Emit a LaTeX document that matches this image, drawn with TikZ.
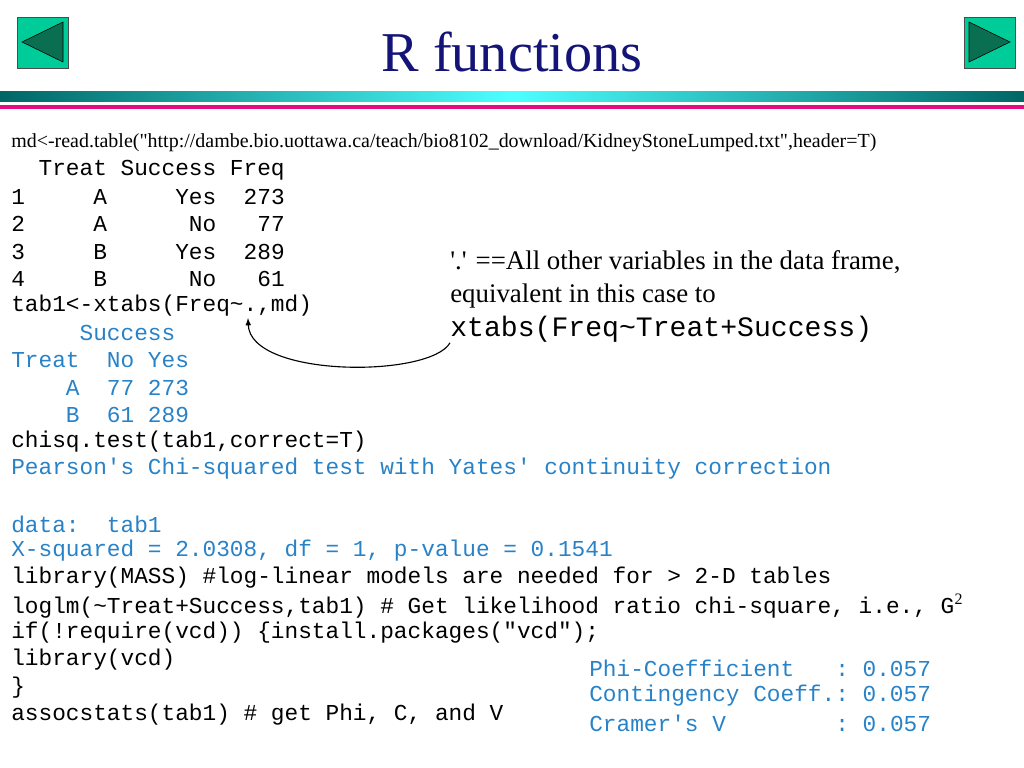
\documentclass[tikz,border=0pt]{standalone}
\usepackage{fontspec}
\setmainfont{Liberation Serif}
\setmonofont{Liberation Mono}
\usetikzlibrary{arrows,calc}
\definecolor{navytitle}{RGB}{20,20,120}
\definecolor{rblue}{RGB}{40,130,200}
\definecolor{btn}{RGB}{0,204,153}
\definecolor{btndark}{RGB}{10,110,80}
\begin{document}
\begin{tikzpicture}[x=0.025cm,y=-0.025cm]
        \tikzstyle{code} = [anchor=west, inner sep=0, font=\fontsize{16.2}{18}\ttfamily]
        \tikzstyle{rout} = [code, text=rblue]
        \tikzstyle{button} = [draw=black!70, fill=btn]
        \useasboundingbox (0,0) rectangle (1024,768);
        % navigation buttons
        \draw[button] (17,17) rectangle (68,68);
        \filldraw[fill=btndark, draw=black] (22,42) -- (63,22) -- (63,62) -- cycle;
        \draw[button] (964,17) rectangle (1015,68);
        \filldraw[fill=btndark, draw=black] (1010,42) -- (969,22) -- (969,62) -- cycle;
        \node[text=navytitle, font=\fontsize{40}{44}\selectfont] (title) at (512,52) {R functions};
        % banner bars
        \shade[left color=teal!80!black, right color=teal!80!black, middle color=cyan!70] (0,92) rectangle (1024,102);
        \fill[magenta!85!purple] (0,105) rectangle (1024,109);
        \node[anchor=west, inner sep=0, font=\fontsize{14.2}{16}\selectfont] (url) at (11,143)
          {md<-read.table(\textquotedbl http://dambe.bio.uottawa.ca/teach/bio8102\_download/KidneyStoneLumped.txt\textquotedbl,header=T)};
        % R session
        \node[code] (l0)  at (11,170) {\ \ Treat Success Freq};
        \node[code] (l1)  at (11,197) {1\ \ \ \ \ A\ \ \ \ \ Yes\ \ 273};
        \node[code] (l2)  at (11,224) {2\ \ \ \ \ A\ \ \ \ \ \ No\ \ \ 77};
        \node[code] (l3)  at (11,252) {3\ \ \ \ \ B\ \ \ \ \ Yes\ \ 289};
        \node[code] (l4)  at (11,279) {4\ \ \ \ \ B\ \ \ \ \ \ No\ \ \ 61};
        \node[code] (l5)  at (11,306) {tab1<-xtabs(Freq\textasciitilde.,md)};
        \node[rout] (l6)  at (11,333) {\ \ \ \ \ Success};
        \node[rout] (l7)  at (11,360) {Treat\ \ No Yes};
        \node[rout] (l8)  at (11,388) {\ \ \ \ A\ \ 77 273};
        \node[rout] (l9)  at (11,415) {\ \ \ \ B\ \ 61 289};
        \node[code] (l10) at (11,442) {chisq.test(tab1,correct=T)};
        \node[rout] (l11) at (11,469) {Pearson's Chi-squared test with Yates' continuity correction};
        \node[rout] (l13) at (11,524) {data:\ \ tab1};
        \node[rout] (l14) at (11,551) {X-squared = 2.0308, df = 1, p-value = 0.1541};
        \node[code] (l15) at (11,578) {library(MASS) \#log-linear models are needed for > 2-D tables};
        \node[code] (l16) at (11,606) {loglm(\textasciitilde Treat+Success,tab1) \# Get likelihood ratio chi-square, i.e., G\textsuperscript{\rmfamily 2}};
        \node[code] (l17) at (11,633) {if(!require(vcd)) \{install.packages("vcd");};
        \node[code] (l18) at (11,660) {library(vcd)};
        \node[code] (l19) at (11,688) {\}};
        \node[code] (l20) at (11,715) {assocstats(tab1) \# get Phi, C, and V};
        % association statistics
        \node[rout] (phi)  at (589,668) {Phi-Coefficient\ \ \ : 0.057};
        \node[rout] (cont) at (589,696) {Contingency Coeff.: 0.057};
        \node[rout] (cram) at (589,723) {Cramer's V\ \ \ \ \ \ \ \ : 0.057};
        % note on the dot
        \node[anchor=north west, inner sep=0, align=left, font=\fontsize{19.1}{24}\selectfont] (note) at (450,250)
          {\textquotesingle.\textquotesingle{} ==All other variables in the data frame,\\ equivalent in this case to\\
           {\fontsize{20}{24}\ttfamily xtabs(Freq\textasciitilde Treat+Success)}};
        \coordinate (dot) at (248,318);
        \draw[-latex, thick] (note.south west) .. controls (430,378) and (250,378) .. (dot);
      \end{tikzpicture}
\end{document}
